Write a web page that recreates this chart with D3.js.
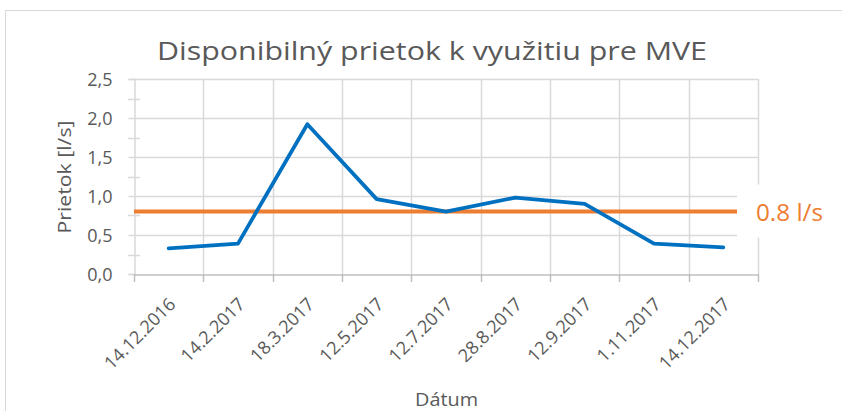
<!DOCTYPE html>
<html>
<head>
<meta charset="utf-8">
<script src="https://cdn.jsdelivr.net/npm/d3@7"></script>
<style>
  html, body { margin: 0; padding: 0; background: #fff; }
  svg { display: block; font-family: "Open Sans", sans-serif; }
</style>
</head>
<body>
<div id="chart"></div>
<script>
const categories = [`14.12.2016`, `14.2.2017`, `18.3.2017`, `12.5.2017`, `12.7.2017`, `28.8.2017`, `12.9.2017`, `1.11.2017`, `14.12.2017`];
const flow = [0.33, 0.39, 1.92, 0.96, 0.80, 0.98, 0.90, 0.39, 0.34];
const threshold = 0.8;
const thresholdLabel = `0.8 l/s`;
const yTicks = [0, 0.5, 1, 1.5, 2, 2.5];
const yMinorTicks = [0.25, 0.75, 1.25, 1.75, 2.25];

const W = 842, H = 411;
const plot = { left: 134, right: 758, top: 79, bottom: 274 };
const textColor = `#595959`;
const gridColor = `#d9d9d9`;
const axisColor = `#bfbfbf`;
const font = `"Open Sans", sans-serif`;

const svg = d3.select(`#chart`).append(`svg`)
    .attr(`width`, W)
    .attr(`height`, H)
    .attr(`font-family`, font);

// outer chart border
svg.append(`rect`)
    .attr(`x`, 5.5).attr(`y`, 10.5)
    .attr(`width`, 900).attr(`height`, 500)
    .attr(`fill`, `#fff`)
    .attr(`stroke`, gridColor);

const x = d3.scaleBand()
    .domain(categories)
    .range([plot.left, plot.right])
    .padding(0);

const y = d3.scaleLinear()
    .domain([0, 2.5])
    .range([plot.bottom, plot.top]);

const bounds = d3.range(categories.length + 1).map((i) => plot.left + i * x.step());

// horizontal gridlines
svg.append(`g`).selectAll(`line`)
    .data(yTicks.filter((d) => d > 0))
  .enter().append(`line`)
    .attr(`x1`, plot.left).attr(`x2`, plot.right)
    .attr(`y1`, (d) => Math.round(y(d)) + 0.5)
    .attr(`y2`, (d) => Math.round(y(d)) + 0.5)
    .attr(`stroke`, gridColor)
    .attr(`stroke-width`, 1.5);

// vertical gridlines between categories
svg.append(`g`).selectAll(`line`)
    .data(bounds.slice(1))
  .enter().append(`line`)
    .attr(`x1`, (d) => Math.round(d) + 0.5).attr(`x2`, (d) => Math.round(d) + 0.5)
    .attr(`y1`, plot.top).attr(`y2`, plot.bottom)
    .attr(`stroke`, gridColor)
    .attr(`stroke-width`, 1.5);

// y axis
const yAxis = svg.append(`g`)
    .attr(`transform`, `translate(${plot.left + 0.5},0)`)
    .call(d3.axisLeft(y)
      .tickValues(yTicks)
      .tickSize(6)
      .tickPadding(16)
      .tickFormat((d) => d.toFixed(1).replace(`.`, `,`)))
    .attr(`font-family`, null)
    .attr(`font-size`, null);
yAxis.select(`.domain`).attr(`stroke`, gridColor).attr(`stroke-width`, 1.5);
yAxis.selectAll(`.tick line`).attr(`stroke`, gridColor).attr(`stroke-width`, 1.5);
yAxis.selectAll(`.tick text`)
    .attr(`fill`, textColor)
    .style(`font-size`, `18px`)
    .attr(`dy`, `0.35em`);

// minor y ticks crossing the axis
svg.append(`g`).selectAll(`line`)
    .data(yMinorTicks)
  .enter().append(`line`)
    .attr(`x1`, plot.left - 6).attr(`x2`, plot.left + 6)
    .attr(`y1`, (d) => Math.round(y(d)) + 0.5)
    .attr(`y2`, (d) => Math.round(y(d)) + 0.5)
    .attr(`stroke`, gridColor)
    .attr(`stroke-width`, 1.5);

// x axis: tick marks at category boundaries
svg.append(`g`).selectAll(`line`)
    .data(bounds)
  .enter().append(`line`)
    .attr(`x1`, (d) => Math.round(d) + 0.5).attr(`x2`, (d) => Math.round(d) + 0.5)
    .attr(`y1`, plot.bottom).attr(`y2`, plot.bottom + 8)
    .attr(`stroke`, axisColor)
    .attr(`stroke-width`, 1.5);

const xAxis = svg.append(`g`)
    .attr(`transform`, `translate(0,${plot.bottom + 0.5})`)
    .call(d3.axisBottom(x).tickSize(0).tickSizeOuter(0))
    .attr(`font-family`, null)
    .attr(`font-size`, null);
xAxis.select(`.domain`).attr(`stroke`, axisColor).attr(`stroke-width`, 1.5);
xAxis.selectAll(`.tick text`)
    .attr(`fill`, textColor)
    .style(`font-size`, `18px`)
    .attr(`text-anchor`, `end`)
    .attr(`x`, 0).attr(`y`, 0).attr(`dy`, 0)
    .attr(`transform`, `translate(8,31) rotate(-45)`);

// threshold line
svg.append(`line`)
    .attr(`x1`, plot.left).attr(`x2`, plot.right)
    .attr(`y1`, y(threshold)).attr(`y2`, y(threshold))
    .attr(`stroke`, `#ed7d31`)
    .attr(`stroke-width`, 4);

// flow series
const line = d3.line()
    .x((d, i) => x(categories[i]) + x.bandwidth() / 2)
    .y((d) => y(d));

svg.append(`path`)
    .datum(flow)
    .attr(`d`, line)
    .attr(`fill`, `none`)
    .attr(`stroke`, `#0070c0`)
    .attr(`stroke-width`, 3.75)
    .attr(`stroke-linejoin`, `round`)
    .attr(`stroke-linecap`, `round`);

// threshold label with white box (covers gridlines like in the original)
svg.append(`rect`)
    .attr(`x`, 737).attr(`y`, y(threshold) - 27)
    .attr(`width`, 100).attr(`height`, 53)
    .attr(`fill`, `#fff`);
svg.append(`text`)
    .attr(`x`, 756).attr(`y`, y(threshold) + 9)
    .attr(`fill`, `#ed7d31`)
    .attr(`textLength`, 67)
    .attr(`lengthAdjust`, `spacingAndGlyphs`)
    .style(`font-size`, `23px`)
    .text(thresholdLabel);

// title
svg.append(`text`)
    .attr(`x`, 157).attr(`y`, 60)
    .attr(`fill`, textColor)
    .attr(`textLength`, 550)
    .attr(`lengthAdjust`, `spacingAndGlyphs`)
    .style(`font-size`, `26px`)
    .text(`Disponibilný prietok k využitiu pre MVE`);

// axis titles
svg.append(`text`)
    .attr(`transform`, `translate(71,177) rotate(-90)`)
    .attr(`text-anchor`, `middle`)
    .attr(`fill`, textColor)
    .attr(`textLength`, 113)
    .attr(`lengthAdjust`, `spacingAndGlyphs`)
    .style(`font-size`, `18px`)
    .text(`Prietok [l/s]`);

svg.append(`text`)
    .attr(`x`, 415).attr(`y`, 406)
    .attr(`fill`, textColor)
    .attr(`textLength`, 63)
    .attr(`lengthAdjust`, `spacingAndGlyphs`)
    .style(`font-size`, `19px`)
    .text(`Dátum`);
</script>
</body>
</html>
